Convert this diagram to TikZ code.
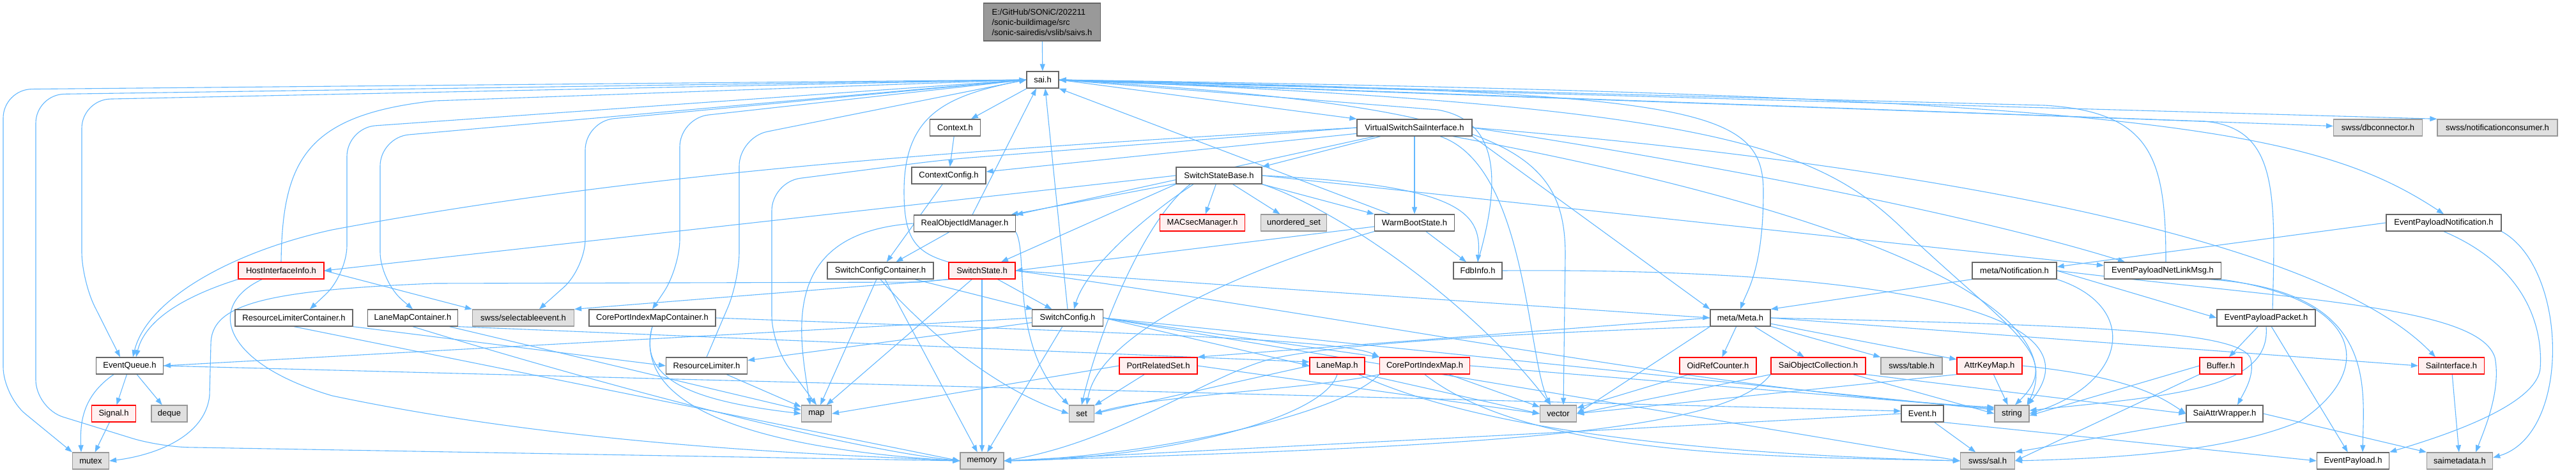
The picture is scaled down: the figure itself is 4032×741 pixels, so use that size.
\documentclass[tikz,border=0pt]{standalone}
\usepackage{fontspec}
\setmainfont{Liberation Sans}
\usetikzlibrary{arrows.meta,backgrounds}
\definecolor{edgeblue}{HTML}{63B8FF}
\definecolor{docborder}{HTML}{666666}
\definecolor{extborder}{HTML}{999999}
\definecolor{extfill}{HTML}{E0E0E0}
\definecolor{redfill}{HTML}{FFF0F0}
\definecolor{redborder}{HTML}{FF0000}
\definecolor{rootfill}{HTML}{999999}
\begin{document}
\begin{tikzpicture}[x=1pt,y=-1pt,
  box/.style={draw=docborder, fill=white, line width=1.3pt, minimum height=26pt, inner sep=0pt, font=\fontsize{13}{15}\selectfont},
  extbox/.style={box, draw=extborder, fill=extfill},
  redbox/.style={box, draw=redborder, fill=redfill},
  arr/.style={draw=edgeblue, line width=1.1pt, -{Triangle[length=11pt,width=8pt]}},
  arrc/.style={arr, rounded corners=45pt},
]
\useasboundingbox (0,0) rectangle (4032,741);
% ---------- nodes ----------
\node[box, fill=rootfill, minimum width=183pt, minimum height=59pt, align=left, font=\fontsize{13}{16}\selectfont] (root) at (1631,34.5) {E:/GitHub/SONiC/202211\\/sonic-buildimage/src\\/sonic-sairedis/vslib/saivs.h};
\node[box, minimum width=50pt] (sai) at (1632,125) {sai.h};
\node[box, minimum width=79pt] (ctx) at (1495,200) {Context.h};
\node[box, minimum width=180pt] (vssi) at (2214,200) {VirtualSwitchSaiInterface.h};
\node[extbox, minimum width=139pt] (dbc) at (3722,200) {swss/dbconnector.h};
\node[extbox, minimum width=188pt] (ncons) at (3909,200) {swss/notificationconsumer.h};
\node[box, minimum width=116pt] (cc) at (1485,275) {ContextConfig.h};
\node[box, minimum width=134pt] (ssb) at (1908,275) {SwitchStateBase.h};
\node[box, minimum width=159pt] (roim) at (1510,350) {RealObjectIdManager.h};
\node[redbox, minimum width=133pt] (macsec) at (1882,349) {MACsecManager.h};
\node[extbox, minimum width=103pt] (uset) at (2025,349) {unordered\_set};
\node[box, minimum width=125pt] (wbs) at (2214,349) {WarmBootState.h};
\node[box, minimum width=180pt] (epn) at (3825,349) {EventPayloadNotification.h};
\node[redbox, minimum width=134pt] (hii) at (440,424) {HostInterfaceInfo.h};
\node[box, minimum width=166pt] (scc) at (1378,424) {SwitchConfigContainer.h};
\node[redbox, minimum width=104pt] (ss) at (1537,424) {SwitchState.h};
\node[box, minimum width=76pt] (fdb) at (2313,424) {FdbInfo.h};
\node[box, minimum width=132pt] (mnot) at (3153,424) {meta/Notification.h};
\node[box, minimum width=183pt] (epnlm) at (3385,424) {EventPayloadNetLinkMsg.h};
\node[box, minimum width=184pt] (rlc) at (460,498) {ResourceLimiterContainer.h};
\node[box, minimum width=141pt] (lmc) at (646,498) {LaneMapContainer.h};
\node[extbox, minimum width=159pt] (selev) at (819,498) {swss/selectableevent.h};
\node[box, minimum width=198pt] (cpimc) at (1021,498) {CorePortIndexMapContainer.h};
\node[box, minimum width=111pt] (sc) at (1671,498) {SwitchConfig.h};
\node[box, minimum width=94pt] (meta) at (2724,498) {meta/Meta.h};
\node[box, minimum width=154pt] (epp) at (3547,498) {EventPayloadPacket.h};
\node[box, minimum width=105pt] (eq) at (203,573) {EventQueue.h};
\node[box, minimum width=127pt] (rl) at (1106,573) {ResourceLimiter.h};
\node[redbox, minimum width=122pt] (prs) at (1813,573) {PortRelatedSet.h};
\node[redbox, minimum width=86pt] (lanemap) at (2093,573) {LaneMap.h};
\node[redbox, minimum width=141pt] (cpim) at (2230,573) {CorePortIndexMap.h};
\node[redbox, minimum width=120pt] (orc) at (2689,573) {OidRefCounter.h};
\node[redbox, minimum width=148pt] (soc) at (2846,573) {SaiObjectCollection.h};
\node[extbox, minimum width=96pt] (ntable) at (2992,573) {swss/table.h};
\node[redbox, minimum width=102pt] (akm) at (3114,573) {AttrKeyMap.h};
\node[redbox, minimum width=66pt] (buffer) at (3476,573) {Buffer.h};
\node[redbox, minimum width=103pt] (saii) at (3837,573) {SaiInterface.h};
\node[redbox, minimum width=69pt] (nsignal) at (178,648) {Signal.h};
\node[extbox, minimum width=56pt] (ndeque) at (265,648) {deque};
\node[extbox, minimum width=47pt] (nmap) at (1278,648) {map};
\node[extbox, minimum width=39pt] (nset) at (1693,648) {set};
\node[extbox, minimum width=57pt] (nvector) at (2439,648) {vector};
\node[box, minimum width=66pt] (nevent) at (3009,648) {Event.h};
\node[extbox, minimum width=54pt] (nstring) at (3149,648) {string};
\node[box, minimum width=120pt] (saw) at (3482,648) {SaiAttrWrapper.h};
\node[extbox, minimum width=57pt] (nmutex) at (142,722) {mutex};
\node[extbox, minimum width=68pt] (nmemory) at (1537,722) {memory};
\node[extbox, minimum width=85pt] (sal) at (3111,722) {swss/sal.h};
\node[box, minimum width=113pt] (ep) at (3683,722) {EventPayload.h};
\node[extbox, minimum width=103pt] (saimd) at (3850,722) {saimetadata.h};
% ---------- edges ----------
\begin{scope}[on background layer]
\fill[white] (0,0) rectangle (4032,741);
% root and sai.h
\draw[arr] (root) -- (sai);
\draw[arr] (sai) -- (ctx);
\draw[arr] (sai.east) -- (vssi.north west);
\draw[arr] (sai) -- (dbc);
\draw[arr] (sai.east) -- (ncons.north west);
\draw[arr] (sai.east) .. controls (3350,150) and (3620,200) .. (epn.north);
\draw[arr] (sai.east) .. controls (2650,145) and (2760,165) .. (2760,300) .. controls (2760,420) and (2735,455) .. (meta.north);
\draw[arrc] (sai.west) -- (5,140) -- (5,620) -- (nmutex.north west);
\draw[arrc] (sai.west) -- (56,148) -- (56,640) -- (250,700) -- (nmemory.west);
\draw[arrc] (sai.west) -- (128,156) -- (128,440) -- ([xshift=-15pt]eq.north);
\draw[arrc] (sai.west) -- (543,200) -- (543,430) -- ([xshift=25pt]rlc.north);
\draw[arrc] (sai.west) -- (595,215) -- (595,440) -- (lmc.north);
\draw[arrc] (sai.west) -- (916,190) -- (916,420) -- ([xshift=25pt]selev.north);
\draw[arrc] (sai.west) -- (1064,185) -- (1064,420) -- (cpimc.north);
\draw[arr] (sai.east) .. controls (2350,165) and (2450,230) .. (2450,400) -- ([xshift=8pt]nvector.north);
\draw[arr] (sai.east) .. controls (2700,165) and (2850,230) .. (2990,370) .. controls (3150,520) and (3230,560) .. ([xshift=5pt]nstring.north);
% into sai.h
\draw[arr] (hii.north) .. controls (442,250) and (480,180) .. (680,158) -- (sai.west);
\draw[arrc] (rl.north) -- (1157,440) -- (1157,215) -- (sai.west);
\draw[arr] (ss.north west) .. controls (1430,395) and (1415,370) .. (1415,300) .. controls (1415,180) and (1480,150) .. (sai.west);
\draw[arr] (sc.north) -- ([xshift=4pt]sai.south);
\draw[arr] ([xshift=12pt]roim.north) -- ([xshift=-10pt]sai.south);
\draw[arr] ([xshift=25pt]wbs.north west) -- (sai.south east);
\draw[arr] (fdb.north) .. controls (2345,300) and (2355,190) .. (2250,172) -- (sai.east);
\draw[arr] ([xshift=5pt]epnlm.north) .. controls (3390,250) and (3370,175) .. (3200,165) -- (sai.east);
\draw[arr] ([xshift=10pt]epp.north) .. controls (3562,300) and (3565,200) .. (3450,190) -- (sai.east);
% Context / ContextConfig
\draw[arr] (ctx) -- (cc);
\draw[arr] (cc) -- (scc);
% VirtualSwitchSaiInterface
\draw[arr] (vssi) -- (cc);
\draw[arrc] (vssi.west) -- (1480,250) -- (1208,285) -- (1208,540) -- (nmap.north);
\draw[arr] (vssi.west) .. controls (1500,235) and (1000,270) .. (520,360) .. controls (360,395) and (230,470) .. ([xshift=5pt]eq.north);
\draw[arr] (vssi) -- (ssb.north east);
\draw[arr] (vssi) -- (roim.north east);
\draw[arr] (vssi) -- (wbs);
\draw[arr] (vssi.south east) -- (meta.north west);
\draw[arr] (vssi.east) .. controls (2800,240) and (3600,340) .. ([xshift=-25pt]saii.north);
\draw[arr] (vssi.east) .. controls (2700,260) and (3100,340) .. ([xshift=-59pt]epnlm.north);
\draw[arr] ([xshift=60pt]vssi.south) .. controls (2900,330) and (3250,480) .. ([xshift=-4pt]nstring.north east);
\draw[arr] ([xshift=40pt]vssi.south) .. controls (2390,260) and (2390,560) .. ([xshift=-12pt]nvector.north);
% SwitchStateBase
\draw[arr] (ssb) -- (roim);
\draw[arr] (ssb.south west) -- ([xshift=30pt]ss.north);
\draw[arr] ([xshift=-40pt]ssb.south) .. controls (1790,340) and (1700,420) .. ([xshift=10pt]sc.north);
\draw[arr] ([xshift=-45pt]ssb.south) .. controls (1790,345) and (1720,520) .. (nset.north);
\draw[arr] (ssb) -- (macsec);
\draw[arr] (ssb) -- (uset);
\draw[arr] (ssb.south east) -- (wbs.north west);
\draw[arr] (ssb.west) -- (hii.east);
\draw[arr] (ssb.south east) .. controls (2100,330) and (2310,480) .. ([xshift=-12pt]nvector.north);
\draw[arr] (ssb.east) -- ([yshift=8pt]epnlm.west);
\draw[arr] (ssb.east) .. controls (2280,290) and (2320,330) .. (fdb.north);
% WarmBootState / FdbInfo
\draw[arr] (wbs) -- (fdb);
\draw[arr] ([yshift=-6pt]wbs.west) -- (ss.east);
\draw[arr] (wbs.south west) .. controls (1950,420) and (1720,520) .. ([xshift=8pt]nset.north);
\draw[arr] (fdb.east) .. controls (2900,420) and (3300,480) .. ([xshift=-3pt]nstring.north east);
% RealObjectIdManager
\draw[arr] (roim) -- (scc);
\draw[arr] (roim.south east) .. controls (1610,400) and (1580,540) .. (nset.north west);
\draw[arr] (roim.west) .. controls (1220,365) and (1250,520) .. ([xshift=-10pt]nmap.north);
% SwitchConfigContainer
\draw[arr] (scc) -- (sc);
\draw[arr] (scc) -- (nmemory);
\draw[arr] (scc.south) .. controls (1450,520) and (1560,610) .. (nset.west);
\draw[arr] (scc) -- (nmap);
% SwitchState
\draw[arr] (ss) -- (sc);
\draw[arr] (ss) -- (nmemory);
\draw[arr] (ss) -- (nmap);
\draw[arr] (ss.south west) -- (1440,442) -- (680,444) .. controls (400,455) and (330,480) .. (330,540) -- (328,620) .. controls (320,690) and (230,715) .. (nmutex.east);
\draw[arr] (ss.east) -- (meta.west);
\draw[arr] (ss.east) .. controls (2200,510) and (2700,615) .. ([yshift=10pt]nstring.west);
\draw[arr] (ss.south west) -- (selev.north east);
% SwitchConfig
\draw[arr] (sc) -- (nmemory);
\draw[arr] (sc.west) -- (eq.east);
\draw[arr] (sc) -- (rl);
\draw[arr] (sc.east) -- (lanemap.west);
\draw[arr] (sc.east) -- (cpim.north west);
\draw[arr] (sc.east) -- ([yshift=6pt]nstring.west);
\draw[arr] (sc.east) -- (sal.west);
% containers
\draw[arr] (rlc.south east) -- (rl.west);
\draw[arr] (rlc.south) -- (nmemory.west);
\draw[arr] (lmc.south east) -- ([yshift=6pt]lanemap.west);
\draw[arr] (lmc) -- (nmap);
\draw[arr] (lmc.south) .. controls (900,590) and (1300,700) .. (nmemory.west);
\draw[arr] (cpimc.east) .. controls (1700,520) and (2100,530) .. (cpim.north west);
\draw[arr] (cpimc.south) .. controls (995,600) and (1100,630) .. (nmap.west);
\draw[arr] (cpimc.south) .. controls (980,670) and (1300,710) .. (nmemory.west);
\draw[arr] (rl) -- (nmap);
% EventQueue / HostInterfaceInfo
\draw[arr] (eq) -- (nsignal);
\draw[arr] (eq) -- (ndeque);
\draw[arr] ([xshift=-25pt]eq.south) .. controls (130,620) and (125,660) .. ([xshift=-15pt]nmutex.north);
\draw[arr] (eq.east) -- ([yshift=4pt]nevent.west);
\draw[arr] (nsignal) -- (nmutex);
\draw[arr] (hii.south west) .. controls (270,470) and (225,510) .. ([xshift=10pt]eq.north);
\draw[arr] (hii.east) -- (selev.north west);
\draw[arr] ([xshift=-30pt]hii.south) .. controls (320,480) and (350,570) .. (520,620) .. controls (900,700) and (1300,712) .. (nmemory.west);
% LaneMap / CorePortIndexMap / PortRelatedSet
\draw[arr] (lanemap.south east) -- (nvector.west);
\draw[arr] (lanemap.south) .. controls (2070,660) and (1800,720) .. (nmemory.east);
\draw[arr] ([xshift=-10pt]lanemap.south east) .. controls (2330,680) and (2700,712) .. (sal.west);
\draw[arr] (lanemap.west) -- (nset.east);
\draw[arr] (cpim) -- (nvector);
\draw[arr] (cpim.south west) .. controls (2100,650) and (1800,715) .. (nmemory.east);
\draw[arr] (cpim.south) .. controls (2400,720) and (2800,715) .. (sal.west);
\draw[arr] (cpim.east) -- ([yshift=8pt]nstring.west);
\draw[arr] (cpim.south west) .. controls (2050,610) and (1800,620) .. (nset.east);
\draw[arr] (prs) -- (nset);
\draw[arr] (prs.west) -- (nmap.east);
\draw[arr] (prs.east) -- (nvector.west);
% meta/Meta.h
\draw[arr] (meta.west) -- (prs.north east);
\draw[arr] (meta) -- (orc);
\draw[arr] (meta) -- (soc);
\draw[arr] (meta) -- (ntable);
\draw[arr] (meta) -- (akm);
\draw[arr] (meta.east) -- (saii.west);
\draw[arr] (meta.east) .. controls (3300,510) and (3500,520) .. (3522,560) .. controls (3530,585) and (3515,610) .. ([xshift=20pt]saw.north);
\draw[arr] (meta.south west) -- (nvector.east);
\draw[arr] (meta.south west) .. controls (2300,525) and (2100,540) .. (2000,560) .. controls (1900,580) and (1760,690) .. (nmemory.east);
% meta/Notification.h
\draw[arr] (mnot.south west) -- (meta.north east);
\draw[arr] (mnot.south east) .. controls (3350,480) and (3330,600) .. (nstring.east);
\draw[arr] (mnot.east) .. controls (3600,470) and (3880,480) .. (3905,560) .. controls (3915,610) and (3890,670) .. ([xshift=25pt]saimd.north);
\draw[arr] (mnot.east) -- (epp.west);
% EventPayloadNotification
\draw[arr] (epn.west) -- ([yshift=6pt]mnot.east);
\draw[arr] (epn.south) .. controls (3960,420) and (3980,520) .. (3976,577) .. controls (3970,640) and (3800,690) .. (ep.north east);
\draw[arr] (epn.south east) .. controls (4020,420) and (4025,680) .. ([yshift=5pt]saimd.east);
% EventPayloadNetLinkMsg / Packet
\draw[arr] ([xshift=-20pt]epnlm.south east) .. controls (3720,455) and (3700,600) .. ([xshift=15pt]ep.north);
\draw[arr] (epnlm.south east) .. controls (3700,470) and (3720,580) .. (3600,660) .. controls (3480,710) and (3300,718) .. (sal.east);
\draw[arr] (epp) -- (buffer);
\draw[arr] (epp) -- (ep);
\draw[arr] (epp.south) .. controls (3555,610) and (3400,620) .. ([yshift=5pt]nstring.east);
\draw[arr] (buffer.west) -- ([yshift=-3pt]nstring.east);
\draw[arr] (buffer.south west) -- (sal.east);
% remaining leaves
\draw[arr] (saii) -- (saimd);
\draw[arr] (saw.east) -- (saimd.north west);
\draw[arr] (saw.south west) -- (sal.north east);
\draw[arr] (soc.south east) -- (saw.west);
\draw[arr] ([xshift=-20pt]soc.south east) -- (nstring.west);
\draw[arr] (soc.south west) -- (nvector.east);
\draw[arr] (soc.south west) .. controls (2700,680) and (2300,700) .. (nmemory.east);
\draw[arr] (orc) -- (nvector);
\draw[arr] (akm) -- (nstring);
\draw[arr] (akm.south west) -- (nvector.east);
\draw[arr] (akm.east) .. controls (3330,590) and (3380,620) .. (saw.west);
\draw[arr] (nevent) -- (sal);
\draw[arr] (nevent.south east) -- (ep.west);
\draw[arr] (nevent.west) .. controls (2600,670) and (2000,700) .. (nmemory.east);
\end{scope}
\end{tikzpicture}
\end{document}
